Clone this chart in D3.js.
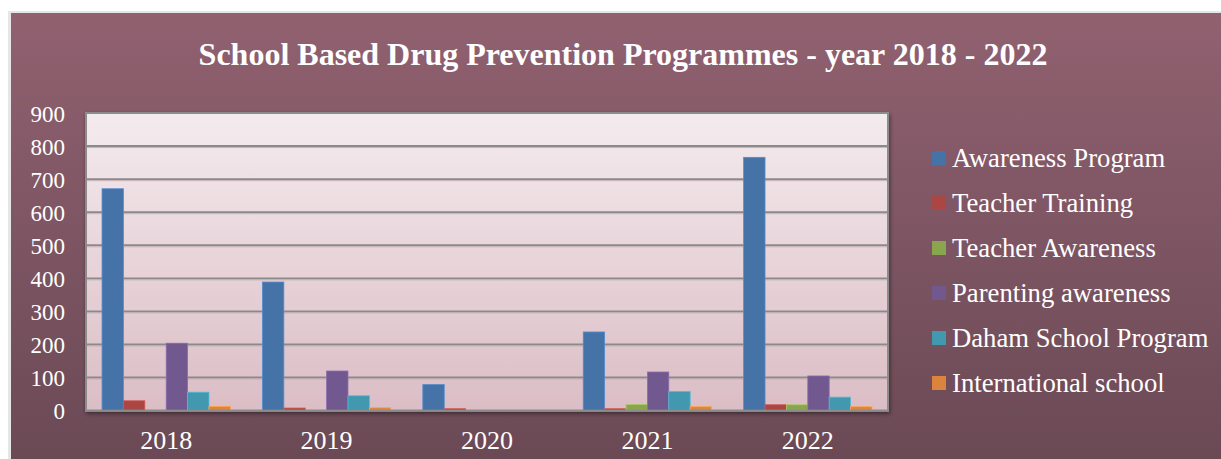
<!DOCTYPE html>
<html><head><meta charset="utf-8">
<script src="https://cdn.jsdelivr.net/npm/d3@7"></script>
<style>html,body{margin:0;padding:0;background:#fff;overflow:hidden}</style>
</head><body><svg id="c" width="1221" height="459"></svg>
<script>
const categories = ["2018","2019","2020","2021","2022"];
const seriesNames = ["Awareness Program","Teacher Training","Teacher Awareness","Parenting awareness","Daham School Program","International school"];
const awareness = [671, 389, 79, 238, 766];
const teacherTraining = [30, 8, 6, 6, 18];
const teacherAwareness = [0, 0, 0, 19, 18];
const parenting = [204, 120, 0, 117, 105];
const daham = [56, 45, 0, 58, 41];
const international = [13, 9, 0, 12, 12];
const yTicks = [0,100,200,300,400,500,600,700,800,900];
const colors = ["#4572A7","#AA4643","#89A54E","#71588F","#4198AF","#DB843D"];
const title = "School Based Drug Prevention Programmes - year 2018 - 2022";

const series = [awareness, teacherTraining, teacherAwareness, parenting, daham, international];
const svg = d3.select("#c");
const defs = svg.append("defs");
const bg = defs.append("linearGradient").attr("id","bg").attr("x1",0).attr("y1",0).attr("x2",0).attr("y2",1);
bg.append("stop").attr("offset","0%").attr("stop-color","#916170");
bg.append("stop").attr("offset","100%").attr("stop-color","#6a4955");
const pg = defs.append("linearGradient").attr("id","pg").attr("x1",0).attr("y1",0).attr("x2",0).attr("y2",1);
pg.append("stop").attr("offset","0%").attr("stop-color","#f4ebee");
pg.append("stop").attr("offset","100%").attr("stop-color","#dbbdc5");
const sh = defs.append("filter").attr("id","sh").attr("x","-5%").attr("y","-5%").attr("width","110%").attr("height","115%");
sh.append("feDropShadow").attr("dx",1).attr("dy",2).attr("stdDeviation",2).attr("flood-color","#000").attr("flood-opacity",0.45);

const serif = "'Liberation Serif','Times New Roman',serif";

// outer shadow + background
svg.append("rect").attr("x",8).attr("y",11).attr("width",1221).attr("height",460).attr("fill","#e6e6e6");
svg.append("rect").attr("x",11).attr("y",13).attr("width",1215).attr("height",450).attr("fill","url(#bg)");

svg.append("text").attr("x",623).attr("y",65).attr("text-anchor","middle")
  .attr("font-family",serif).attr("font-weight","bold")
  .attr("font-size",32).attr("fill","#fff").text(title);

const L=86, R=888, T=113, B=410.7;
const x0 = d3.scaleBand().domain(categories).range([L,R]).paddingInner(0.2).paddingOuter(0.1);
const x1 = d3.scaleBand().domain(d3.range(series.length)).range([0,x0.bandwidth()]);
const y = d3.scaleLinear().domain([0,900]).range([B,T]);

svg.append("rect").attr("x",L).attr("y",T).attr("width",R-L).attr("height",B-T)
  .attr("fill","url(#pg)").attr("stroke","#8c8c8c").attr("stroke-width",2).attr("filter","url(#sh)");

const g = svg.append("g");
g.selectAll("line.grid").data(yTicks.filter(d=>d>0 && d<900)).join("line")
  .attr("x1",L).attr("x2",R).attr("y1",d=>y(d)).attr("y2",d=>y(d))
  .attr("stroke","#8a8a8a").attr("stroke-width",2);
g.selectAll("line.grid2").data(yTicks.filter(d=>d>0 && d<900)).join("line")
  .attr("x1",L).attr("x2",R).attr("y1",d=>y(d)+1.5).attr("y2",d=>y(d)+1.5)
  .attr("stroke","#c9b3b9").attr("stroke-width",1);

// bars
const bars = svg.append("g");
categories.forEach((c,ci)=>{
  series.forEach((s,si)=>{
    const v = s[ci];
    if(v<=0) return;
    bars.append("rect")
      .attr("x",x0(c)+x1(si)).attr("y",y(v))
      .attr("width",x1.bandwidth()).attr("height",B-y(v))
      .attr("fill",colors[si]).attr("stroke",d3.color(colors[si]).brighter(0.6)).attr("stroke-width",0.8);
  });
});

// plot border redraw
svg.append("rect").attr("x",L).attr("y",T).attr("width",R-L).attr("height",B-T)
  .attr("fill","none").attr("stroke","#8c8c8c").attr("stroke-width",2);

// y axis
const yAxis = d3.axisLeft(y).tickValues(yTicks).tickSize(0).tickPadding(0);
const ya = svg.append("g").attr("transform",`translate(65,0)`).call(yAxis);
ya.select(".domain").remove();
ya.selectAll("text").attr("font-family",serif).attr("font-size",23)
  .attr("fill","#fff").attr("dy","0.35em");

// x axis
const xAxis = d3.axisBottom(x0).tickSize(0).tickPadding(0);
const xa = svg.append("g").attr("transform",`translate(0,449)`).call(xAxis);
xa.select(".domain").remove();
xa.selectAll("text").attr("font-family",serif).attr("font-size",26)
  .attr("fill","#fff").attr("dy",0).attr("y",0);

// legend
const lg = svg.append("g");
seriesNames.forEach((n,i)=>{
  const cy = 158 + i*45;
  lg.append("rect").attr("x",932).attr("y",cy-7).attr("width",14).attr("height",14).attr("fill",colors[i]);
  lg.append("text").attr("x",952).attr("y",cy).attr("dy","0.35em")
    .attr("font-family",serif).attr("font-size",26.7)
    .attr("fill","#fff").text(n);
});
</script></body></html>
